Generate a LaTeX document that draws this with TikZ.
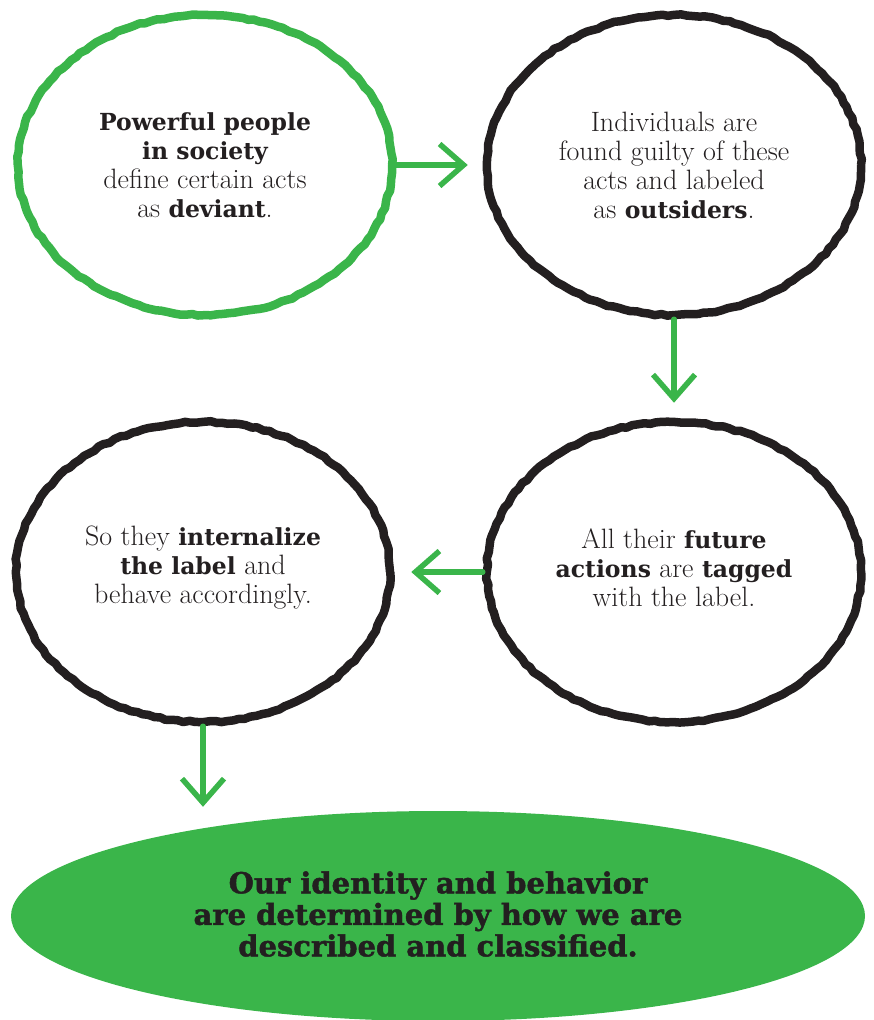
\documentclass[tikz,border=0pt]{standalone}
\usepackage{fontspec}
\usepackage{tikz}
\usetikzlibrary{arrows.meta, positioning, shapes.geometric, decorations.pathmorphing}
\definecolor{leafgreen}{HTML}{3AB54A}
\definecolor{ink}{HTML}{231F20}
\newfontfamily\slab{DejaVu Serif}
\newfontfamily\slabheavy{DejaVu Serif}[BoldFeatures={FakeBold=1.6}]
\newcommand{\hl}[1]{{\slab\bfseries\fontsize{23.5}{29}\selectfont #1}}

\begin{document}
\begin{tikzpicture}[x=1pt, y=-1pt,
  loop/.style={ellipse, line width=8.5pt, inner sep=0pt, minimum width=374pt, minimum height=300pt,
    line join=round, decorate, decoration={random steps, segment length=6pt, amplitude=0.9pt}},
  txt/.style={align=center, text=ink, font=\fontsize{28}{29}\selectfont},
  flow/.style={draw=leafgreen, line width=5.5pt, line cap=round, -{Straight Barb[length=24pt, width=42pt, line width=5.5pt]}}
]
\useasboundingbox (0,0) rectangle (873,1020);

\node[loop, draw=leafgreen] (powerful) at (205,165) {};
\node[loop, draw=ink] (outsiders) at (674,165) {};
\node[loop, draw=ink] (tagged) at (674,572) {};
\node[loop, draw=ink] (internal) at (203,572) {};
\node[ellipse, fill=leafgreen, minimum width=854pt, minimum height=210pt, inner sep=0pt] (result) at (438,916) {};

\node[txt] at (powerful.center) {\hl{Powerful people}\\\hl{in society}\\define certain acts\\as \hl{deviant}.};
\node[txt] at (outsiders.center) {Individuals are\\found guilty of these\\acts and labeled\\as \hl{outsiders}.};
\node[txt] at ([yshift=4pt]tagged.center) {All their \hl{future}\\\hl{actions} are \hl{tagged}\\with the label.};
\node[txt] at ([yshift=4pt]internal.center) {So they \hl{internalize}\\\hl{the label} and\\behave accordingly.};
\node[align=center, text=ink, font=\slabheavy\bfseries\fontsize{29}{31.5}\selectfont] at ([yshift=2pt]result.center)
  {Our identity and behavior\\are determined by how we are\\described and classified.};

\draw[flow, shorten >=15pt] (powerful.east) -- (outsiders.west);
\draw[flow, shorten >=15pt] (outsiders.south) -- (tagged.north);
\draw[flow, shorten >=17pt] (tagged.west) -- (internal.east);
\draw[flow, shorten >=4pt] (internal.south) -- (internal.south |- result.north);
\end{tikzpicture}
\end{document}
